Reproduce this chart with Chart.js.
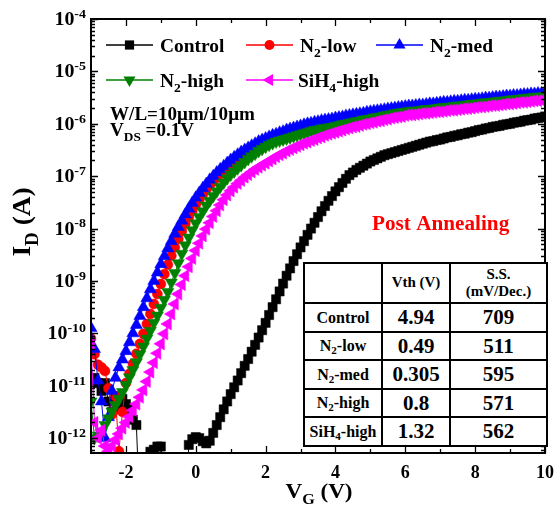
<!DOCTYPE html>
<html>
<head>
<meta charset="utf-8">
<script src="https://cdn.jsdelivr.net/npm/chart.js@4.4.0/dist/chart.umd.min.js"></script>
<style>
body{margin:0;background:#fff;}
#wrap{position:relative;width:555px;height:514px;}
#tabla{position:absolute;left:303px;top:262px;width:243px;border-collapse:collapse;table-layout:fixed;
  font-family:'Liberation Serif','Times New Roman',serif;font-weight:bold;background:#fff;color:#000;}
#tabla td{border:2px solid #000;text-align:center;padding:0;line-height:1;white-space:nowrap;}
#tabla .nom{font-size:16px;}
#tabla .val{font-size:21px;}
#tabla .cab{font-size:15px;line-height:1.15;}
#tabla sub{font-size:11px;vertical-align:-3px;line-height:0;}
</style>
</head>
<body>
<div id="wrap">
<canvas id="myChart" width="555" height="514"></canvas>
<table id="tabla">
  <colgroup><col style="width:78px"><col style="width:68px"><col style="width:97px"></colgroup>
  <tr style="height:40px"><td></td><td class="cab">Vth (V)</td><td class="cab">S.S.<br>(mV/Dec.)</td></tr>
  <tr style="height:29px"><td class="nom">Control</td><td class="val">4.94</td><td class="val">709</td></tr>
  <tr style="height:28px"><td class="nom">N<sub>2</sub>-low</td><td class="val">0.49</td><td class="val">511</td></tr>
  <tr style="height:29px"><td class="nom">N<sub>2</sub>-med</td><td class="val">0.305</td><td class="val">595</td></tr>
  <tr style="height:28px"><td class="nom">N<sub>2</sub>-high</td><td class="val">0.8</td><td class="val">571</td></tr>
  <tr style="height:29px"><td class="nom">SiH<sub>4</sub>-high</td><td class="val">1.32</td><td class="val">562</td></tr>
</table>
</div>
<script>
// Tension de compuerta VG (V)
const vg = [
  -3, -2.9, -2.8, -2.7, -2.6, -2.5, -2.4, -2.3, -2.2, -2.1,
  -2, -1.9, -1.8, -1.7, -1.6, -1.5, -1.4, -1.3, -1.2, -1.1,
  -1, -0.9, -0.8, -0.7, -0.6, -0.5, -0.4, -0.3, -0.2, -0.1,
  0, 0.1, 0.2, 0.3, 0.4, 0.5, 0.6, 0.7, 0.8, 0.9,
  1, 1.1, 1.2, 1.3, 1.4, 1.5, 1.6, 1.7, 1.8, 1.9,
  2, 2.1, 2.2, 2.3, 2.4, 2.5, 2.6, 2.7, 2.8, 2.9,
  3, 3.1, 3.2, 3.3, 3.4, 3.5, 3.6, 3.7, 3.8, 3.9,
  4, 4.1, 4.2, 4.3, 4.4, 4.5, 4.6, 4.7, 4.8, 4.9,
  5, 5.1, 5.2, 5.3, 5.4, 5.5, 5.6, 5.7, 5.8, 5.9,
  6, 6.1, 6.2, 6.3, 6.4, 6.5, 6.6, 6.7, 6.8, 6.9,
  7, 7.1, 7.2, 7.3, 7.4, 7.5, 7.6, 7.7, 7.8, 7.9,
  8, 8.1, 8.2, 8.3, 8.4, 8.5, 8.6, 8.7, 8.8, 8.9,
  9, 9.1, 9.2, 9.3, 9.4, 9.5, 9.6, 9.7, 9.8, 9.9,
  10
];

const controlLog = [
  -10.9, -10.85, -10.95, -11.1, -10.95, -11.3, -11.5, -11.2, -11.45, -11.25,
  -11.35, -11.45, -11.65, -11.75, -13.5, -13.5, -13.5, -12.26, -12.22, -12.16,
  -12.16, -13.5, -13.5, -13.5, -13.5, -13.5, -13.5, -13.5, -12.13, -12.02,
  -11.98, -12.0, -12.06, -12.1, -12.05, -11.9, -11.75, -11.6, -11.45, -11.3,
  -11.16, -11.03, -10.9, -10.76, -10.62, -10.49, -10.35, -10.22, -10.08, -9.94,
  -9.8, -9.65, -9.5, -9.35, -9.2, -9.05, -8.9, -8.76, -8.62, -8.49,
  -8.36, -8.24, -8.12, -8.0, -7.89, -7.78, -7.67, -7.57, -7.47, -7.38,
  -7.29, -7.21, -7.13, -7.05, -6.98, -6.93, -6.88, -6.84, -6.8, -6.76,
  -6.72, -6.69, -6.66, -6.63, -6.6, -6.58, -6.56, -6.54, -6.52, -6.5,
  -6.48, -6.46, -6.44, -6.42, -6.4, -6.38, -6.36, -6.34, -6.33, -6.31,
  -6.3, -6.28, -6.26, -6.25, -6.23, -6.22, -6.2, -6.19, -6.17, -6.16,
  -6.14, -6.12, -6.11, -6.09, -6.08, -6.06, -6.05, -6.04, -6.02, -6.01,
  -6.0, -5.98, -5.97, -5.96, -5.94, -5.93, -5.92, -5.9, -5.89, -5.88,
  -5.86
];
const n2LowLog = [
  -10.1, -10.4, -10.6, -10.65, -10.72, -11.05, -11.55, -11.2, -12.25, -11.5,
  -10.95, -10.77, -10.58, -10.39, -10.2, -10.01, -9.82, -9.63, -9.44, -9.25,
  -9.06, -8.87, -8.69, -8.52, -8.36, -8.2, -8.05, -7.91, -7.78, -7.66,
  -7.55, -7.45, -7.35, -7.26, -7.18, -7.1, -7.03, -6.96, -6.9, -6.84,
  -6.78, -6.73, -6.68, -6.63, -6.58, -6.54, -6.5, -6.46, -6.42, -6.39,
  -6.36, -6.33, -6.3, -6.28, -6.25, -6.23, -6.2, -6.18, -6.16, -6.14,
  -6.12, -6.1, -6.08, -6.06, -6.04, -6.03, -6.01, -6.0, -5.98, -5.97,
  -5.96, -5.95, -5.93, -5.92, -5.91, -5.89, -5.88, -5.87, -5.86, -5.84,
  -5.83, -5.82, -5.81, -5.8, -5.79, -5.77, -5.76, -5.75, -5.74, -5.73,
  -5.72, -5.71, -5.71, -5.7, -5.69, -5.69, -5.68, -5.67, -5.67, -5.66,
  -5.65, -5.64, -5.64, -5.63, -5.62, -5.62, -5.61, -5.6, -5.6, -5.59,
  -5.58, -5.57, -5.56, -5.55, -5.55, -5.54, -5.53, -5.53, -5.52, -5.51,
  -5.51, -5.5, -5.5, -5.49, -5.48, -5.48, -5.47, -5.47, -5.46, -5.46,
  -5.45
];
const n2MedLog = [
  -9.9, -10.3, -10.9, -11.3, -12.0, -11.6, -11.1, -10.85, -10.65, -10.5,
  -10.34, -10.17, -10.0, -9.84, -9.67, -9.5, -9.33, -9.16, -9.0, -8.84,
  -8.68, -8.53, -8.38, -8.24, -8.1, -7.97, -7.85, -7.73, -7.62, -7.51,
  -7.41, -7.32, -7.23, -7.15, -7.07, -7.0, -6.93, -6.87, -6.81, -6.75,
  -6.69, -6.64, -6.59, -6.54, -6.5, -6.46, -6.42, -6.38, -6.34, -6.31,
  -6.28, -6.25, -6.22, -6.2, -6.17, -6.15, -6.12, -6.1, -6.08, -6.06,
  -6.04, -6.02, -6.0, -5.99, -5.97, -5.96, -5.94, -5.93, -5.92, -5.91,
  -5.89, -5.88, -5.87, -5.85, -5.84, -5.83, -5.82, -5.81, -5.8, -5.78,
  -5.77, -5.76, -5.75, -5.74, -5.73, -5.72, -5.71, -5.7, -5.69, -5.68,
  -5.67, -5.66, -5.66, -5.65, -5.64, -5.64, -5.63, -5.62, -5.62, -5.61,
  -5.6, -5.59, -5.59, -5.58, -5.57, -5.57, -5.56, -5.55, -5.55, -5.54,
  -5.53, -5.53, -5.52, -5.51, -5.51, -5.5, -5.49, -5.49, -5.48, -5.47,
  -5.47, -5.46, -5.46, -5.45, -5.44, -5.44, -5.43, -5.43, -5.42, -5.42,
  -5.41
];
const n2HighLog = [
  -11.3, -12.0, -11.95, -11.88, -11.75, -11.62, -11.49, -11.37, -11.25, -11.12,
  -10.98, -10.84, -10.7, -10.55, -10.4, -10.25, -10.1, -9.95, -9.8, -9.66,
  -9.51, -9.36, -9.21, -9.03, -8.85, -8.66, -8.48, -8.32, -8.17, -8.03,
  -7.9, -7.78, -7.67, -7.56, -7.47, -7.38, -7.29, -7.2, -7.12, -7.04,
  -6.97, -6.91, -6.85, -6.79, -6.73, -6.67, -6.62, -6.57, -6.52, -6.48,
  -6.44, -6.4, -6.37, -6.34, -6.32, -6.3, -6.28, -6.26, -6.24, -6.22,
  -6.2, -6.18, -6.16, -6.14, -6.12, -6.11, -6.09, -6.08, -6.07, -6.06,
  -6.04, -6.03, -6.01, -6.0, -5.98, -5.97, -5.95, -5.94, -5.92, -5.91,
  -5.9, -5.88, -5.87, -5.86, -5.84, -5.83, -5.82, -5.8, -5.79, -5.78,
  -5.77, -5.76, -5.75, -5.75, -5.74, -5.73, -5.72, -5.72, -5.71, -5.7,
  -5.69, -5.68, -5.68, -5.67, -5.66, -5.65, -5.65, -5.64, -5.63, -5.62,
  -5.62, -5.61, -5.6, -5.59, -5.59, -5.58, -5.57, -5.56, -5.56, -5.55,
  -5.54, -5.53, -5.53, -5.52, -5.51, -5.5, -5.5, -5.49, -5.48, -5.48,
  -5.47
];
const sih4HighLog = [
  -10.2, -11.7, -12.0, -11.85, -12.15, -12.25, -12.15, -12.03, -11.92, -11.81,
  -11.7, -11.59, -11.47, -11.35, -11.22, -11.08, -10.92, -10.74, -10.56, -10.38,
  -10.2, -10.01, -9.82, -9.63, -9.44, -9.25, -9.07, -8.9, -8.73, -8.57,
  -8.42, -8.28, -8.14, -8.01, -7.89, -7.77, -7.66, -7.55, -7.45, -7.36,
  -7.28, -7.21, -7.14, -7.08, -7.02, -6.97, -6.92, -6.87, -6.83, -6.79,
  -6.75, -6.71, -6.67, -6.63, -6.59, -6.56, -6.52, -6.49, -6.46, -6.43,
  -6.4, -6.37, -6.35, -6.32, -6.3, -6.27, -6.25, -6.22, -6.2, -6.18,
  -6.16, -6.14, -6.12, -6.1, -6.08, -6.06, -6.05, -6.03, -6.01, -6.0,
  -5.98, -5.97, -5.95, -5.94, -5.92, -5.91, -5.89, -5.88, -5.87, -5.86,
  -5.84, -5.83, -5.83, -5.82, -5.81, -5.8, -5.8, -5.79, -5.78, -5.77,
  -5.77, -5.76, -5.75, -5.74, -5.74, -5.73, -5.72, -5.71, -5.71, -5.7,
  -5.69, -5.68, -5.68, -5.67, -5.66, -5.65, -5.65, -5.64, -5.63, -5.62,
  -5.62, -5.61, -5.6, -5.59, -5.59, -5.58, -5.57, -5.56, -5.56, -5.55,
  -5.54
];

// ticks de los ejes
const xTicksMayores = [-2, 0, 2, 4, 6, 8, 10];
const xTicksMenores = [-3, -1, 1, 3, 5, 7, 9];
const yDecadas = [-12, -11, -10, -9, -8, -7, -6, -5, -4];

const FUENTE = "'Liberation Serif','Times New Roman',serif";

const series = [
  { nombre: [['Control', '']], log: controlLog, color: '#000000', estilo: 'rect', radio: 6.5, rot: 0 },
  { nombre: [['N', ''], ['2', 'sub'], ['-low', '']], log: n2LowLog, color: '#ff0000', estilo: 'circle', radio: 5, rot: 0 },
  { nombre: [['N', ''], ['2', 'sub'], ['-med', '']], log: n2MedLog, color: '#0000ff', estilo: 'triangle', radio: 7, rot: 0 },
  { nombre: [['N', ''], ['2', 'sub'], ['-high', '']], log: n2HighLog, color: '#008000', estilo: 'triangle', radio: 7, rot: 180 },
  { nombre: [['SiH', ''], ['4', 'sub'], ['-high', '']], log: sih4HighLog, color: '#ff00ff', estilo: 'triangle', radio: 7, rot: 270 }
];

// texto con subindices / superindices
function texto(ctx, partes, x, y, size, align, sx) {
  sx = sx || 1;
  let ancho = 0;
  const medidas = partes.map(p => {
    const s = p[1] ? size * 0.7 : size;
    ctx.font = `bold ${s}px ${FUENTE}`;
    const w = ctx.measureText(p[0]).width * sx;
    ancho += w;
    return [s, w];
  });
  let cx = align === 'right' ? x - ancho : (align === 'center' ? x - ancho / 2 : x);
  partes.forEach((p, i) => {
    const s = medidas[i][0];
    const dy = p[1] === 'sub' ? size * 0.3 : (p[1] === 'sup' ? -size * 0.38 : 0);
    ctx.save();
    ctx.font = `bold ${s}px ${FUENTE}`;
    ctx.textAlign = 'left';
    ctx.textBaseline = 'alphabetic';
    ctx.translate(cx, y + dy);
    ctx.scale(sx, 1);
    ctx.fillText(p[0], 0, 0);
    ctx.restore();
    cx += medidas[i][1];
  });
}

function marcador(ctx, s, x, y) {
  ctx.save();
  ctx.fillStyle = s.color;
  ctx.beginPath();
  if (s.estilo === 'rect') {
    const h = s.radio * Math.SQRT1_2;
    ctx.rect(x - h, y - h, 2 * h, 2 * h);
  } else if (s.estilo === 'circle') {
    ctx.arc(x, y, s.radio, 0, Math.PI * 2);
  } else {
    const r = s.radio;
    let a = s.rot * Math.PI / 180;
    ctx.moveTo(x + Math.sin(a) * r, y - Math.cos(a) * r);
    for (let k = 0; k < 2; k++) {
      a += 2 * Math.PI / 3;
      ctx.lineTo(x + Math.sin(a) * r, y - Math.cos(a) * r);
    }
    ctx.closePath();
  }
  ctx.fill();
  ctx.restore();
}

const marcoPlugin = {
  id: 'marco',
  afterDraw(chart) {
    const ctx = chart.ctx;
    const a = chart.chartArea;
    const xs = chart.scales.x, ys = chart.scales.y;
    ctx.save();
    ctx.strokeStyle = '#000';
    ctx.fillStyle = '#000';
    ctx.lineWidth = 1.3;
    ctx.beginPath();
    xTicksMayores.concat(xTicksMenores).forEach(v => {
      const px = Math.round(xs.getPixelForValue(v)) + 0.5;
      const l = xTicksMayores.includes(v) ? 7 : 4;
      ctx.moveTo(px, a.bottom); ctx.lineTo(px, a.bottom - l);
      ctx.moveTo(px, a.top); ctx.lineTo(px, a.top + l);
    });
    yDecadas.forEach(d => {
      const py = Math.round(ys.getPixelForValue(Math.pow(10, d))) + 0.5;
      ctx.moveTo(a.left, py); ctx.lineTo(a.left + 7, py);
      ctx.moveTo(a.right, py); ctx.lineTo(a.right - 7, py);
      for (let k = 2; k <= 9; k++) {
        const v = k * Math.pow(10, d - 1);
        if (v < ys.min) continue;
        const pm = Math.round(ys.getPixelForValue(v)) + 0.5;
        ctx.moveTo(a.left, pm); ctx.lineTo(a.left + 4, pm);
        ctx.moveTo(a.right, pm); ctx.lineTo(a.right - 4, pm);
      }
    });
    ctx.stroke();
    ctx.lineWidth = 2;
    ctx.strokeRect(a.left, a.top, a.right - a.left, a.bottom - a.top);

    // etiquetas de ticks
    xTicksMayores.forEach(v => {
      texto(ctx, [[String(v), '']], xs.getPixelForValue(v), 478, 18, 'center', 1);
    });
    yDecadas.forEach(d => {
      const py = ys.getPixelForValue(Math.pow(10, d));
      texto(ctx, [['10', ''], [String(d), 'sup']], 86, py + 6, 19, 'right', 1.05);
    });

    // titulos de ejes
    texto(ctx, [['V', ''], ['G', 'sub'], [' (V)', '']], 319, 498, 21, 'center', 1.1);
    ctx.save();
    ctx.translate(21, 222);
    ctx.rotate(-Math.PI / 2);
    texto(ctx, [['I', ''], ['D', 'sub'], [' (A)', '']], 0, 9, 26, 'center', 1.05);
    ctx.restore();

    // leyenda
    const pos = [[106, 45, 160], [246, 45, 300], [376, 45, 430], [106, 80, 160], [246, 80, 298]];
    series.forEach((s, i) => {
      const [x0, y0, xt] = pos[i];
      ctx.strokeStyle = s.color;
      ctx.lineWidth = 1.5;
      ctx.beginPath();
      ctx.moveTo(x0, y0); ctx.lineTo(x0 + 47, y0);
      ctx.stroke();
      marcador(ctx, s, x0 + 23.5, y0);
      ctx.fillStyle = '#000';
      texto(ctx, s.nombre, xt, y0 + 7, 18, 'left', 1.08);
    });

    // anotaciones
    ctx.fillStyle = '#000';
    texto(ctx, [['W/L=10\u03bcm/10\u03bcm', '']], 110, 120, 18, 'left', 1.06);
    texto(ctx, [['V', ''], ['DS', 'sub'], [' =0.1V', '']], 110, 136, 18, 'left', 1.06);
    ctx.fillStyle = '#ff0000';
    texto(ctx, [['Post Annealing', '']], 372, 230, 20, 'left', 1.06);
    ctx.restore();
  }
};

const datasets = series.map((s, i) => ({
  label: s.nombre.map(p => p[0]).join(''),
  data: vg.map((v, j) => ({ x: v, y: Math.pow(10, s.log[j]) })),
  borderColor: s.color,
  backgroundColor: s.color,
  borderWidth: 1,
  pointStyle: s.estilo,
  pointRadius: s.radio,
  pointRotation: s.rot,
  pointBackgroundColor: s.color,
  pointBorderColor: s.color,
  pointBorderWidth: 0.5,
  order: series.length - 1 - i
}));

const chartDOM = document.getElementById('myChart');
const myChart = new Chart(chartDOM, {
  type: 'line',
  data: { datasets: datasets },
  options: {
    responsive: false,
    animation: false,
    devicePixelRatio: 1,
    layout: { padding: { left: 91, top: 19, right: 10, bottom: 61 } },
    plugins: { legend: { display: false }, tooltip: { enabled: false } },
    elements: { line: { tension: 0 } },
    scales: {
      x: { type: 'linear', min: -3, max: 10, display: false },
      y: { type: 'logarithmic', min: 5.2e-13, max: 1e-4, display: false }
    }
  },
  plugins: [marcoPlugin]
});
</script>
</body>
</html>
